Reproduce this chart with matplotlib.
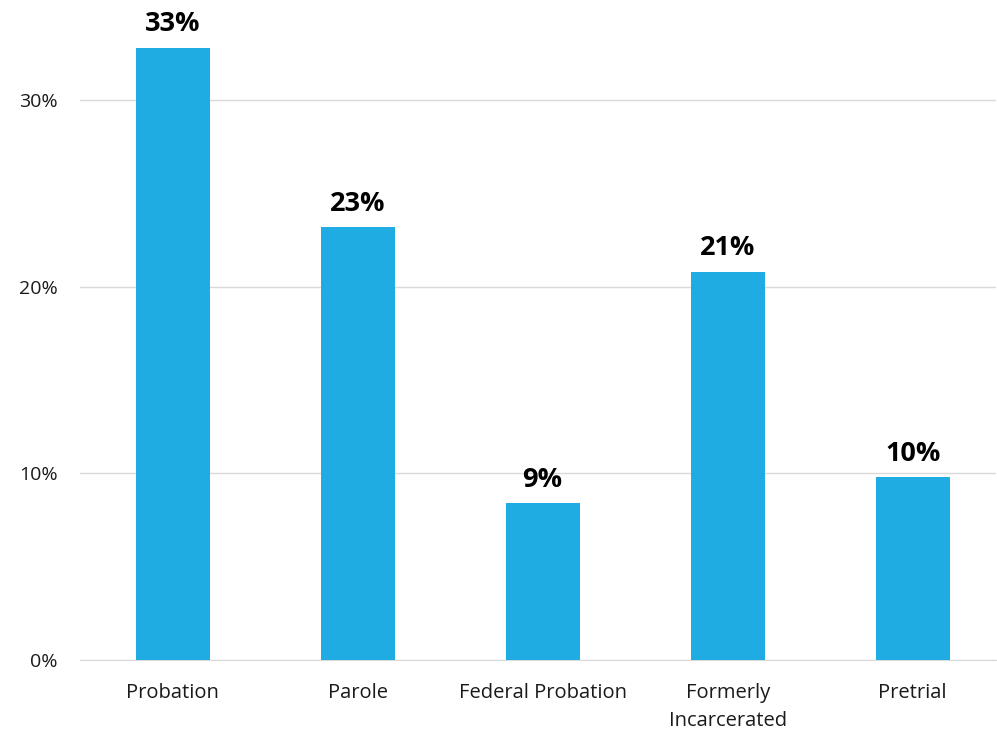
import matplotlib.pyplot as plt

categories = ["Probation", "Parole", "Federal Probation", "Formerly\nIncarcerated", "Pretrial"]
values = [32.8, 23.2, 8.4, 20.8, 9.8]
labels = ["33%", "23%", "9%", "21%", "10%"]
yticks = [0, 10, 20, 30]

BAR_COLOR = "#1EACE3"
GRID_COLOR = "#D9D9D9"
TEXT_COLOR = "#1A1A1A"

plt.rcParams['font.family'] = ['Open Sans', 'DejaVu Sans']

fig = plt.figure(figsize=(9.97, 7.33), dpi=100)
ax = fig.add_axes([80 / 997, (733 - 660) / 733, 916 / 997, 653.5 / 733])

x = range(len(categories))
ax.bar(x, values, width=0.4, color=BAR_COLOR, zorder=3)

for xi, v, lab in zip(x, values, labels):
    ax.text(xi, v + 0.55, lab, ha='center', va='bottom', fontsize=19.5,
            fontweight='bold', color='black')

ax.set_ylim(0, 35)
ax.set_xlim(-0.5, 4.45)
ax.set_yticks(yticks)
ax.set_yticklabels([f"{t}%" for t in yticks], fontsize=14, color=TEXT_COLOR)
ax.set_xticks(list(x))
ax.set_xticklabels(categories, fontsize=14.5, color=TEXT_COLOR, linespacing=1.55)
ax.yaxis.grid(True, color=GRID_COLOR, linewidth=1, zorder=0)
ax.tick_params(axis='both', length=0)
ax.tick_params(axis='y', pad=16)
ax.tick_params(axis='x', pad=16.5)

for side in ['top', 'right', 'left']:
    ax.spines[side].set_visible(False)
ax.spines['bottom'].set_color('#D9D9D9')

fig.savefig("out.png", dpi=100)
